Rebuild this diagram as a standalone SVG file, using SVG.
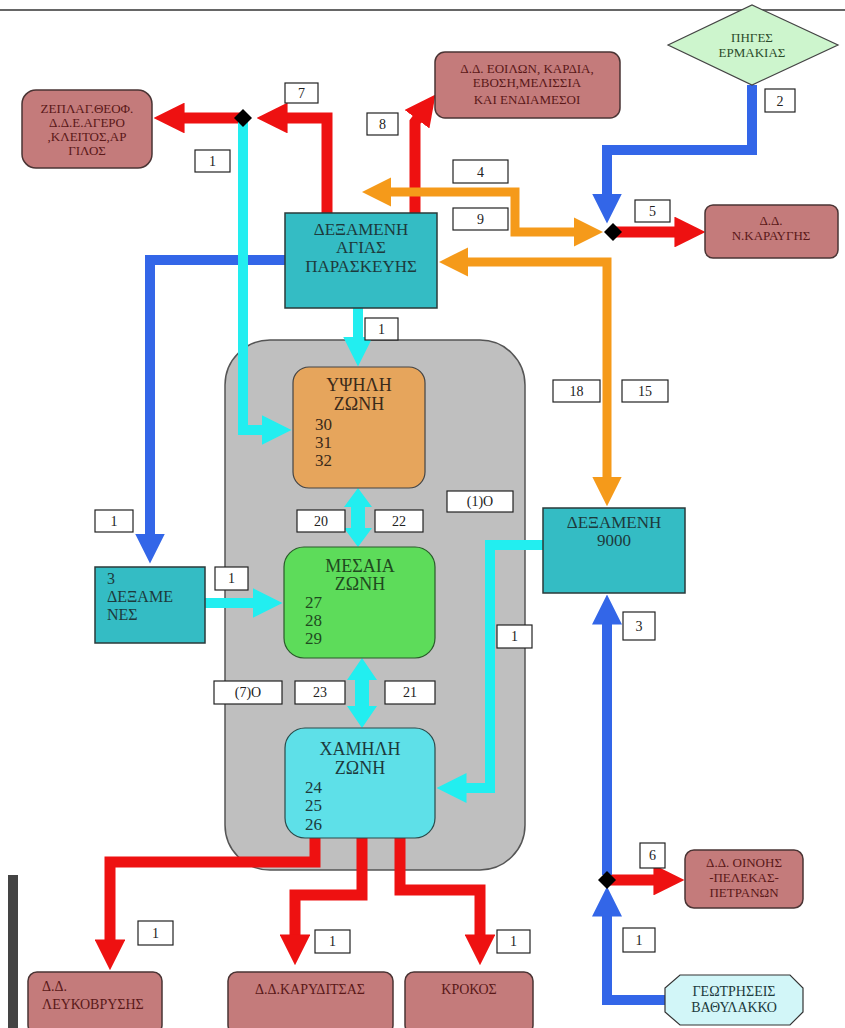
<svg xmlns="http://www.w3.org/2000/svg" width="845" height="1028" viewBox="0 0 845 1028">
<style>
.bg{fill:#fff}
.rn{fill:#c47b7b;stroke:#4a3434;stroke-width:1.5}
.tn{fill:#34bcc4;stroke:#2a3a3a;stroke-width:1.5}
.lb{fill:#fff;stroke:#222;stroke-width:1.2}
.rt{font-family:"Liberation Serif",serif;font-size:13px;fill:#5a1818;text-anchor:middle}
.tt{font-family:"Liberation Serif",serif;font-size:17px;fill:#1d3a3c;text-anchor:middle}
.zt{font-family:"Liberation Serif",serif;font-size:18px;fill:#3a2a1a;text-anchor:middle}
.zn{font-family:"Liberation Serif",serif;font-size:17px;fill:#3a2a1a}
.lt{font-family:"Liberation Serif",serif;font-size:14px;fill:#222;text-anchor:middle}
.red{fill:none;stroke:#ee1111;stroke-width:11}
.blue{fill:none;stroke:#3366e8;stroke-width:10}
.org{fill:none;stroke:#f59a1a;stroke-width:9}
.cy{fill:none;stroke:#22eef0;stroke-width:10}
.jn{fill:#000}
</style>
<defs>
<marker id="mr" viewBox="0 0 10 10" refX="0.5" refY="5" markerWidth="2.8" markerHeight="2.8" orient="auto-start-reverse" markerUnits="strokeWidth"><path d="M0,0 L10,5 L0,10 z" fill="#ee1111"/></marker>
<marker id="mb" viewBox="0 0 10 10" refX="0.5" refY="5" markerWidth="3" markerHeight="3" orient="auto-start-reverse" markerUnits="strokeWidth"><path d="M0,0 L10,5 L0,10 z" fill="#3366e8"/></marker>
<marker id="mo" viewBox="0 0 10 10" refX="0.5" refY="5" markerWidth="3.3" markerHeight="3.3" orient="auto-start-reverse" markerUnits="strokeWidth"><path d="M0,0 L10,5 L0,10 z" fill="#f59a1a"/></marker>
<marker id="mc" viewBox="0 0 10 10" refX="0.5" refY="5" markerWidth="3" markerHeight="3" orient="auto-start-reverse" markerUnits="strokeWidth"><path d="M0,0 L10,5 L0,10 z" fill="#22eef0"/></marker>
</defs>
<rect class="bg" x="0" y="0" width="845" height="1028"/>
<line x1="0" y1="10" x2="845" y2="10" stroke="#333" stroke-width="1.5"/>
<rect x="8" y="875" width="10" height="153" fill="#444"/>

<g id="zone-container"><rect x="225" y="340" width="300" height="530" rx="45" fill="#bfbfbf" stroke="#555" stroke-width="1.5"/></g>

<g id="connectors">
<path class="red" d="M243,118 H183" marker-end="url(#mr)"/>
<path class="red" d="M327,213 V118 H286" marker-end="url(#mr)"/>
<path class="red" d="M415,213 V122 L418,118" marker-end="url(#mr)"/>
<path class="red" d="M613,232 H676" marker-end="url(#mr)"/>
<path class="red" d="M607,880 H655" marker-end="url(#mr)"/>
<path class="red" d="M315,838 V862 H110 V941" marker-end="url(#mr)"/>
<path class="red" d="M362,838 V895 H295 V936" marker-end="url(#mr)"/>
<path class="red" d="M400,838 V890 H480 V936" marker-end="url(#mr)"/>
<path class="blue" d="M752,85 V150 H607 V195" marker-end="url(#mb)"/>
<path class="blue" d="M285,260 H150 V535" marker-end="url(#mb)"/>
<path class="blue" d="M665,1000 H607 V915" marker-end="url(#mb)"/>
<path class="blue" d="M607,875 V623" marker-end="url(#mb)"/>
<path class="org" d="M390,192 H515 V232 H575" marker-start="url(#mo)" marker-end="url(#mo)"/>
<path class="org" d="M467,262 H607 V478" marker-start="url(#mo)" marker-end="url(#mo)"/>
<path class="cy" d="M243,118 V430 H263" marker-end="url(#mc)"/>
<path class="cy" d="M358,308 V338" marker-end="url(#mc)"/>
<path class="cy" d="M205,603 H254" marker-end="url(#mc)"/>
<path class="cy" d="M543,545 H490 V788 H465" marker-end="url(#mc)"/>
<polygon fill="#22eef0" points="358,488 372,507 365,507 365,528 372,528 358,547 344,528 351,528 351,507 344,507"/>
<polygon fill="#22eef0" points="362,658 377,680 369,680 369,706 377,706 362,728 347,706 355,706 355,680 347,680"/>
<polygon class="jn" points="243,109 252,118 243,127 234,118"/>
<polygon class="jn" points="613,223 622,232 613,241 604,232"/>
<polygon class="jn" points="607,871 616,880 607,889 598,880"/>
</g>

<g id="labels">
<rect class="lb" x="285" y="83" width="33" height="20"/><text class="lt" x="301.5" y="98">7</text>
<rect class="lb" x="367" y="113" width="31" height="22"/><text class="lt" x="382.5" y="129">8</text>
<rect class="lb" x="195" y="150" width="35" height="22"/><text class="lt" x="212.5" y="166">1</text>
<rect class="lb" x="765" y="89" width="30" height="23"/><text class="lt" x="780" y="106">2</text>
<rect class="lb" x="453" y="160" width="55" height="23"/><text class="lt" x="480.5" y="177">4</text>
<rect class="lb" x="453" y="208" width="55" height="22"/><text class="lt" x="480.5" y="224">9</text>
<rect class="lb" x="635" y="200" width="35" height="22"/><text class="lt" x="652.5" y="216">5</text>
<rect class="lb" x="365" y="318" width="33" height="22"/><text class="lt" x="381.5" y="334">1</text>
<rect class="lb" x="553" y="380" width="47" height="22"/><text class="lt" x="576.5" y="396">18</text>
<rect class="lb" x="622" y="380" width="46" height="22"/><text class="lt" x="645" y="396">15</text>
<rect class="lb" x="447" y="491" width="66" height="21"/><text class="lt" x="480" y="506">(1)O</text>
<rect class="lb" x="297" y="510" width="48" height="22"/><text class="lt" x="321" y="526">20</text>
<rect class="lb" x="375" y="510" width="48" height="22"/><text class="lt" x="399" y="526">22</text>
<rect class="lb" x="95" y="510" width="38" height="22"/><text class="lt" x="114" y="526">1</text>
<rect class="lb" x="215" y="567" width="33" height="23"/><text class="lt" x="231.5" y="583">1</text>
<rect class="lb" x="497" y="625" width="35" height="23"/><text class="lt" x="514.5" y="641">1</text>
<rect class="lb" x="623" y="612" width="32" height="28"/><text class="lt" x="639" y="631">3</text>
<rect class="lb" x="214" y="681" width="68" height="23"/><text class="lt" x="248" y="697">(7)O</text>
<rect class="lb" x="295" y="681" width="50" height="23"/><text class="lt" x="320" y="697">23</text>
<rect class="lb" x="385" y="681" width="50" height="23"/><text class="lt" x="410" y="697">21</text>
<rect class="lb" x="640" y="843" width="25" height="25"/><text class="lt" x="652.5" y="860">6</text>
<rect class="lb" x="138" y="921" width="35" height="24"/><text class="lt" x="155.5" y="938">1</text>
<rect class="lb" x="315" y="930" width="35" height="23"/><text class="lt" x="332.5" y="946">1</text>
<rect class="lb" x="497" y="930" width="33" height="23"/><text class="lt" x="513.5" y="946">1</text>
<rect class="lb" x="623" y="928" width="32" height="24"/><text class="lt" x="639" y="945">1</text>
</g>

<g id="node-zeplag">
<rect class="rn" x="22" y="90" width="130" height="78" rx="14"/>
<text class="rt" x="87" y="113">ΖΕΠΛΑΓ.ΘΕΟΦ.</text>
<text class="rt" x="87" y="127">Δ.Δ.Ε.ΑΓΕΡΟ</text>
<text class="rt" x="87" y="141">,ΚΛΕΙΤΟΣ,ΑΡ</text>
<text class="rt" x="87" y="155">ΓΙΛΟΣ</text>
</g>
<g id="node-eoilon">
<rect class="rn" x="435" y="52" width="185" height="66" rx="10"/>
<text class="rt" x="527" y="73">Δ.Δ. ΕΟΙΛΩΝ, ΚΑΡΔΙΑ,</text>
<text class="rt" x="527" y="87">ΕΒΟΣΗ,ΜΕΛΙΣΣΙΑ</text>
<text class="rt" x="527" y="104">ΚΑΙ ΕΝΔΙΑΜΕΣΟΙ</text>
</g>
<g id="node-ermakias">
<polygon points="668,45 752,5 838,45 752,85" fill="#cdf5cd" stroke="#444" stroke-width="1.2"/>
<text class="rt" x="752" y="42" style="fill:#2a4a2a">ΠΗΓΕΣ</text>
<text class="rt" x="752" y="57" style="fill:#2a4a2a">ΕΡΜΑΚΙΑΣ</text>
</g>
<g id="node-karavgis">
<rect class="rn" x="705" y="205" width="133" height="53" rx="8"/>
<text class="rt" x="771" y="225">Δ.Δ.</text>
<text class="rt" x="771" y="240">Ν.ΚΑΡΑΥΓΗΣ</text>
</g>
<g id="node-agias">
<rect class="tn" x="285" y="213" width="152" height="95"/>
<text class="tt" x="361" y="235">ΔΕΞΑΜΕΝΗ</text>
<text class="tt" x="361" y="253">ΑΓΙΑΣ</text>
<text class="tt" x="361" y="272">ΠΑΡΑΣΚΕΥΗΣ</text>
</g>
<g id="node-ypsili">
<rect x="293" y="367" width="132" height="121" rx="16" fill="#e6a55c" stroke="#444" stroke-width="1.2"/>
<text class="zt" x="359" y="391">ΥΨΗΛΗ</text>
<text class="zt" x="359" y="410">ΖΩΝΗ</text>
<text class="zn" x="315" y="430">30</text>
<text class="zn" x="315" y="448">31</text>
<text class="zn" x="315" y="466">32</text>
</g>
<g id="node-mesaia">
<rect x="284" y="547" width="151" height="111" rx="20" fill="#5ddc5a" stroke="#2a5a2a" stroke-width="1.2"/>
<text class="zt" x="360" y="572" style="fill:#1f4a1f">ΜΕΣΑΙΑ</text>
<text class="zt" x="360" y="590" style="fill:#1f4a1f">ΖΩΝΗ</text>
<text class="zn" x="305" y="608" style="fill:#1f4a1f">27</text>
<text class="zn" x="305" y="626" style="fill:#1f4a1f">28</text>
<text class="zn" x="305" y="644" style="fill:#1f4a1f">29</text>
</g>
<g id="node-xamili">
<rect x="285" y="728" width="150" height="110" rx="20" fill="#5ee0e8" stroke="#2a4a4a" stroke-width="1.2"/>
<text class="zt" x="360" y="755" style="fill:#1d3a3c">ΧΑΜΗΛΗ</text>
<text class="zt" x="360" y="774" style="fill:#1d3a3c">ΖΩΝΗ</text>
<text class="zn" x="305" y="793" style="fill:#1d3a3c">24</text>
<text class="zn" x="305" y="811" style="fill:#1d3a3c">25</text>
<text class="zn" x="305" y="830" style="fill:#1d3a3c">26</text>
</g>
<g id="node-9000">
<rect class="tn" x="543" y="508" width="142" height="85"/>
<text class="tt" x="614" y="528">ΔΕΞΑΜΕΝΗ</text>
<text class="tt" x="614" y="546">9000</text>
</g>
<g id="node-3dexamenes">
<rect class="tn" x="95" y="567" width="110" height="76"/>
<text class="tt" x="107" y="584" style="text-anchor:start;font-size:16px">3</text>
<text class="tt" x="107" y="602" style="text-anchor:start;font-size:16px">ΔΕΞΑΜΕ</text>
<text class="tt" x="107" y="620" style="text-anchor:start;font-size:16px">ΝΕΣ</text>
</g>
<g id="node-oinois">
<rect class="rn" x="685" y="850" width="118" height="58" rx="9"/>
<text class="rt" x="744" y="867">Δ.Δ. ΟΙΝΟΗΣ</text>
<text class="rt" x="744" y="882">-ΠΕΛΕΚΑΣ-</text>
<text class="rt" x="744" y="897">ΠΕΤΡΑΝΩΝ</text>
</g>
<g id="node-lefkovrysis">
<rect class="rn" x="28" y="972" width="134" height="62" rx="9"/>
<text class="rt" x="42" y="991" style="text-anchor:start;font-size:14px">Δ.Δ.</text>
<text class="rt" x="42" y="1009" style="text-anchor:start;font-size:14px">ΛΕΥΚΟΒΡΥΣΗΣ</text>
</g>
<g id="node-karyditsas">
<rect class="rn" x="228" y="972" width="165" height="62" rx="9"/>
<text class="rt" x="310" y="994" style="font-size:14px">Δ.Δ.ΚΑΡΥΔΙΤΣΑΣ</text>
</g>
<g id="node-krokos">
<rect class="rn" x="405" y="972" width="128" height="62" rx="9"/>
<text class="rt" x="469" y="994" style="font-size:14px">ΚΡΟΚΟΣ</text>
</g>
<g id="node-geotriseis">
<polygon points="680,975 790,975 803,988 803,1012 790,1025 680,1025 665,1012 665,988" fill="#d2f6f8" stroke="#333" stroke-width="1.2"/>
<text class="rt" x="734" y="996" style="fill:#1d3a3c;font-size:14px">ΓΕΩΤΡΗΣΕΙΣ</text>
<text class="rt" x="734" y="1012" style="fill:#1d3a3c;font-size:14px">ΒΑΘΥΛΑΚΚΟ</text>
</g>
</svg>
